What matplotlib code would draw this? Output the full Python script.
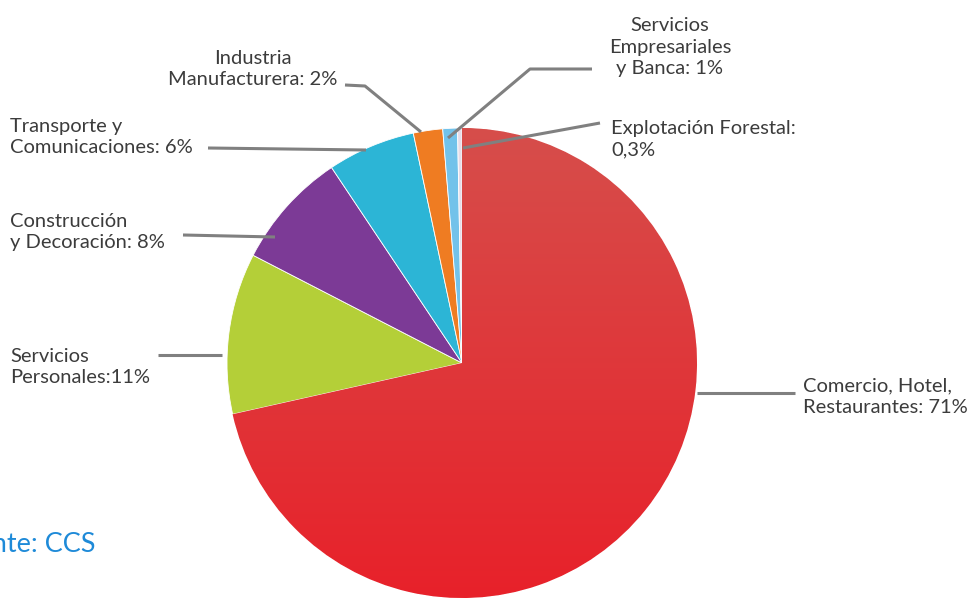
import matplotlib
matplotlib.use("Agg")
import matplotlib.pyplot as plt
import numpy as np
from matplotlib.colors import to_rgb

categories = ["Comercio, Hotel,\nRestaurantes: 71%", "Servicios\nPersonales:11%",
              "Construcción\ny Decoración: 8%", "Transporte y\nComunicaciones: 6%",
              "Industria\nManufacturera: 2%", "Servicios\nEmpresariales\ny Banca: 1%",
              "Explotación Forestal:\n0,3%"]
values = [71, 11, 8, 6, 2, 1, 0.3]
colors = ["#E12A2E", "#B4CF38", "#7C3A96", "#2CB5D6", "#EF7C22", "#72C2EA", "#E6DCE8"]

W, H = 975, 603
fig = plt.figure(figsize=(W / 100, H / 100), dpi=100)
ax = fig.add_axes([0, 0, 1, 1])

def P(x, y):
    return (x, H - y)

cx, cy = P(462, 363)
R = 235
wedges, _ = ax.pie(values, colors=colors, startangle=90, counterclock=False,
                   center=(cx, cy), radius=R,
                   wedgeprops=dict(linewidth=0.6, edgecolor="white"))
ax.set_xlim(0, W)
ax.set_ylim(0, H)
ax.set_aspect("equal")
ax.axis("off")

# vertical shading on the big red slice (lighter at top, vivid at bottom)
top = np.array(to_rgb("#D64E4B"))
bot = np.array(to_rgb("#E8212A"))
t = np.linspace(0, 1, 256)[:, None]
grad = (top * (1 - t) + bot * t)[:, None, :].repeat(2, axis=1)
im = ax.imshow(grad, extent=(cx - R, cx + R, cy - R, cy + R), origin="upper",
               aspect="auto", zorder=wedges[0].get_zorder() + 0.1)
im.set_clip_path(wedges[0])
ax.set_xlim(0, W)
ax.set_ylim(0, H)

font = "Lato"
fs = 14.5
tc = "#3C3C3C"
lc = "#808080"

labels = [
    (categories[0], 803, 397, "left", [(697, 393), (795, 393)]),
    (categories[1], 10, 367, "left", [(158, 355), (222, 355)]),
    (categories[2], 10, 232, "left", [(183, 235), (275, 237)]),
    (categories[3], 10, 137, "left", [(208, 148), (366, 150)]),
    (categories[4], 253, 69, "center", [(345, 85), (365, 86), (421, 132)]),
    (categories[5], 670, 47, "center", [(592, 69), (530, 69), (448, 138)]),
    (categories[6], 611, 139, "left", [(600, 123), (463, 148)]),
]
for txt, x, y, ha, pts in labels:
    ax.text(*P(x, y), txt, ha=ha, va="center", fontsize=fs, family=font,
            color=tc, linespacing=1.32,
            multialignment="center" if ha == "center" else "left", zorder=5)
    xs = [p[0] for p in pts]
    ys = [H - p[1] for p in pts]
    ax.plot(xs, ys, color=lc, lw=2.2, solid_capstyle="butt", zorder=6)

ax.text(*P(-53, 545), "Fuente: CCS", ha="left", va="center", fontsize=19.5,
        family=font, color="#1E8AD8")

fig.savefig("out.png", dpi=100)
